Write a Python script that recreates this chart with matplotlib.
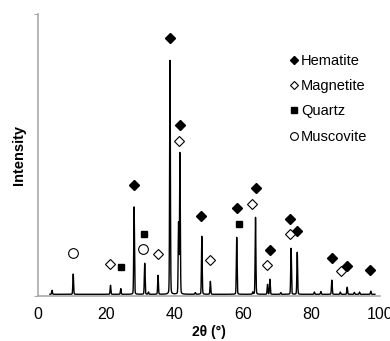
import matplotlib.pyplot as plt
import numpy as np

plt.rcParams['font.family'] = ['Liberation Sans', 'DejaVu Sans']

# XRD peaks (2theta, relative intensity)
peak_pos = [4.1, 10.3, 21.2, 24.2, 28.1, 31.2, 32.3, 35.1, 38.6, 41.1, 41.5,
            46.0, 47.9, 50.4, 58.1, 62.8, 63.6, 67.1, 67.8, 71.0, 74.0, 75.8,
            80.8, 82.7, 85.9, 88.4, 90.4, 92.5, 94.0, 97.3]
peak_int = [1.4, 7.2, 3.2, 2.0, 31.0, 11.0, 0.8, 6.7, 83.0, 25.0, 50.0,
            0.6, 20.6, 4.6, 20.2, 0.8, 27.3, 3.5, 5.3, 0.6, 16.3, 14.9,
            0.8, 1.0, 5.0, 0.8, 2.5, 0.7, 0.8, 1.1]

# phase markers
hem_x = [28.1, 38.6, 41.5, 47.7, 58.1, 63.7, 67.7, 73.7, 75.7, 85.9, 90.4, 97.2]
hem_y = [39.3, 91.6, 60.5, 28.4, 31.2, 38.4, 16.4, 27.4, 23.0, 13.4, 10.6, 9.2]
mag_x = [21.1, 35.1, 41.2, 50.4, 62.7, 67.0, 73.8, 88.5]
mag_y = [11.5, 15.0, 55.1, 12.8, 32.7, 10.9, 21.9, 8.9]
qtz_x = [24.3, 31.0, 58.8]
qtz_y = [10.4, 22.0, 25.6]
mus_x = [10.2, 30.7]
mus_y = [15.2, 16.6]

# pseudo-Voigt peak profile, mostly gaussian
two_theta = np.linspace(3.5, 98.5, 8000)
intensity = np.full_like(two_theta, 0.6)
for p, h in zip(peak_pos, peak_int):
    g = np.exp(-0.5 * ((two_theta - p) / 0.11) ** 2)
    lz = 1 / (1 + ((two_theta - p) / 0.12) ** 2)
    intensity += h * (0.85 * g + 0.15 * lz)

fig = plt.figure(figsize=(3.9, 3.41), dpi=100)
ax = fig.add_axes([0.0974, 0.132, 0.877, 0.827])

ax.plot(two_theta, intensity, color='black', lw=1.0)
ax.plot(hem_x, hem_y, 'D', color='black', ms=5, ls='none', label='Hematite')
ax.plot(mag_x, mag_y, 'D', mfc='white', mec='black', mew=0.8, ms=5.5, ls='none', label='Magnetite')
ax.plot(qtz_x, qtz_y, 's', color='black', ms=5, ls='none', label='Quartz')
ax.plot(mus_x, mus_y, 'o', mfc='white', mec='black', mew=0.8, ms=7, ls='none', label='Muscovite')

ax.set_xlim(0, 100)
ax.set_ylim(0, 100)
ax.set_xticks([0, 20, 40, 60, 80, 100])
ax.set_yticks([0, 100])
ax.set_yticklabels([])
ax.tick_params(axis='x', length=0, labelsize=11.5, pad=8)
ax.tick_params(axis='y', length=3, color='#aaaaaa')
for s in ['top', 'right']:
    ax.spines[s].set_visible(False)
for s in ['left', 'bottom']:
    ax.spines[s].set_color('#aaaaaa')
    ax.spines[s].set_linewidth(1.2)

ax.set_xlabel('2θ (°)', fontsize=10, fontweight='bold', labelpad=2)
ax.set_ylabel('Intensity', fontsize=10.5, fontweight='bold', labelpad=2)

ax.legend(loc='upper left', bbox_to_anchor=(0.71, 0.88), frameon=False,
          fontsize=10.5, handletextpad=0.0, labelspacing=0.78, markerscale=0.8,
          handlelength=1.0, borderaxespad=0)

fig.savefig('out.png', dpi=100)
